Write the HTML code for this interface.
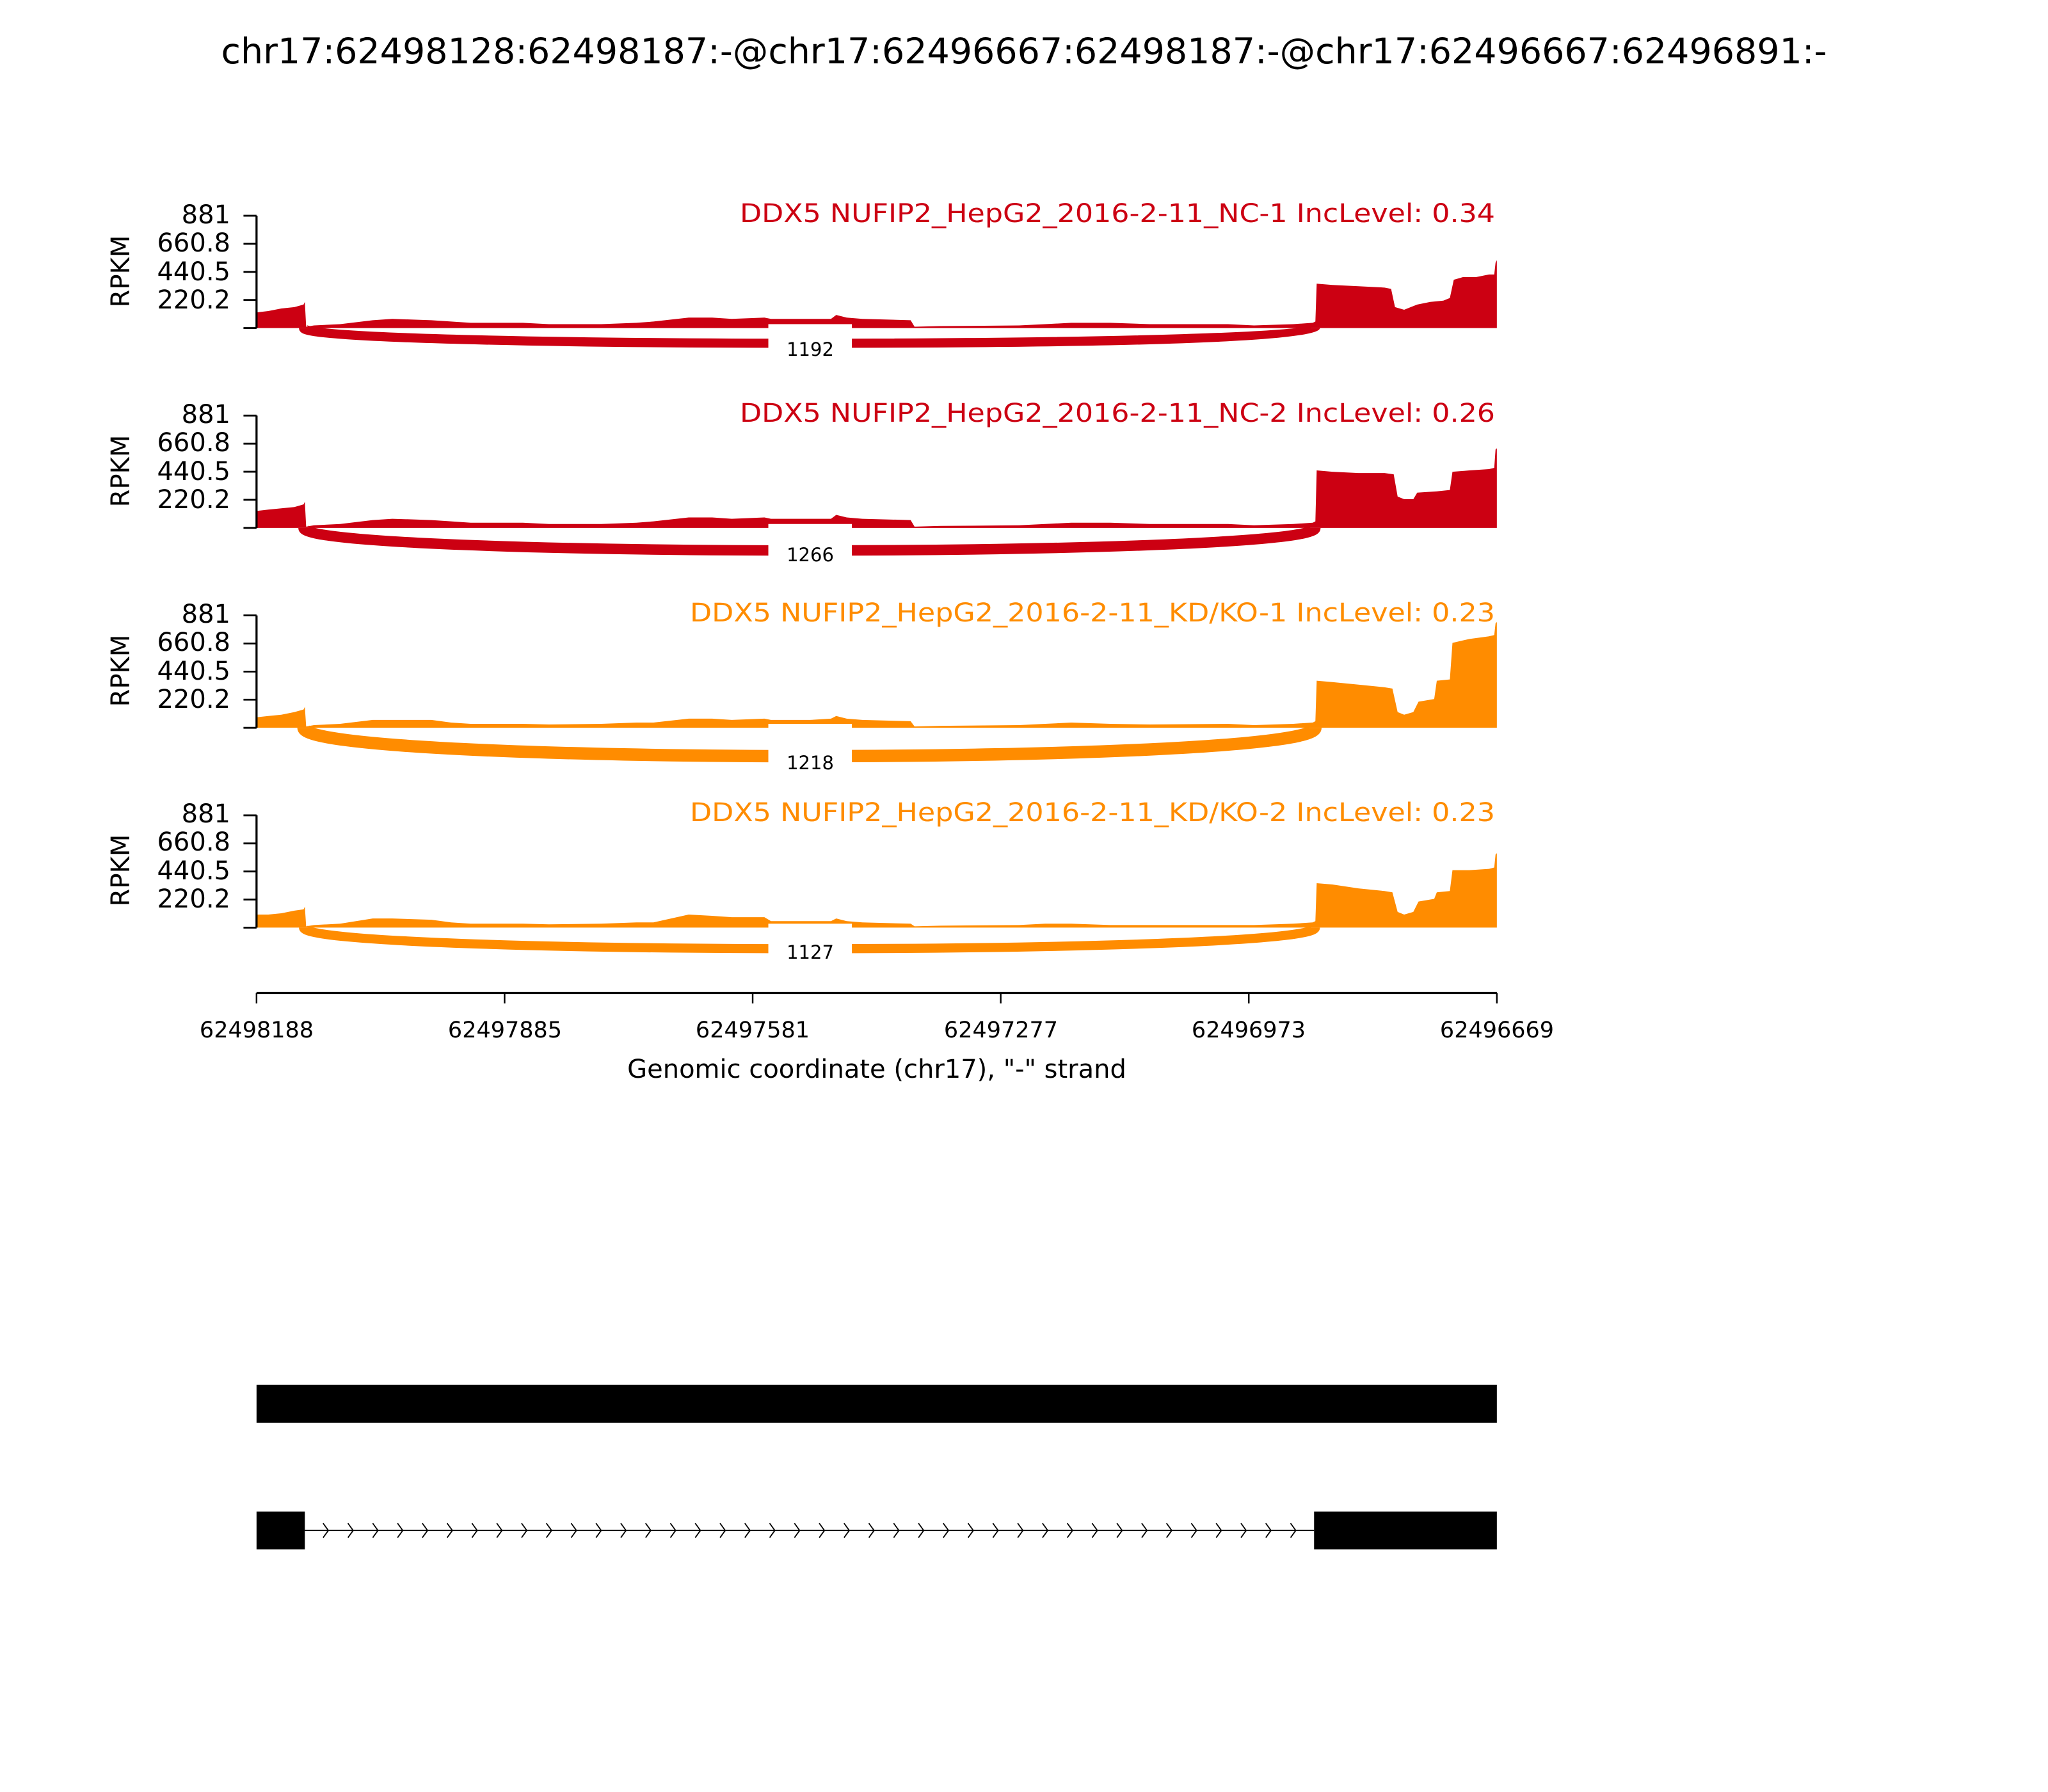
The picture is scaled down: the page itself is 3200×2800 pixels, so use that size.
<!DOCTYPE html>
<html><head><meta charset="utf-8"><style>
html,body{margin:0;padding:0;background:#fff;}
svg{display:block;}
text{font-family:"DejaVu Sans","Liberation Sans",sans-serif;}
</style></head><body>
<svg width="3200" height="2800" viewBox="0 0 3200 2800" xmlns="http://www.w3.org/2000/svg">
<rect width="3200" height="2800" fill="#fff"/>
<text x="1600" y="99" font-size="55" text-anchor="middle" textLength="2509" lengthAdjust="spacingAndGlyphs">chr17:62498128:62498187:-@chr17:62496667:62498187:-@chr17:62496667:62496891:-</text>

<g transform="matrix(2.04 0 0 2.041 1 0.3)">
<!-- Panel 1 -->
<g transform="translate(0,251)">
<path fill="#cc0012" d="M196,0 L196,-12 L205,-13 L215,-15 L225,-16 L232,-18 L233,-20 L234,-1 L240,-2 L260,-3 L285,-6 L300,-7 L330,-6 L345,-5 L360,-4 L400,-4 L420,-3 L460,-3 L487,-4 L500,-5 L527,-8 L545,-8 L560,-7 L585,-8 L590,-7 L620,-7 L636,-7 L640,-10 L648,-8 L660,-7 L697,-6 L700,-1 L720,-1.5 L780,-2 L800,-3 L820,-4 L850,-4 L880,-3 L940,-3 L960,-2 L990,-3 L1005,-4 L1007,-5 L1008,-34 L1020,-33 L1040,-32 L1060,-31 L1065,-30 L1068,-16 L1075,-14 L1080,-16 L1085,-18 L1095,-20 L1105,-21 L1110,-23 L1113,-37 L1120,-39 L1130,-39 L1140,-41 L1144,-41 L1145,-50 L1146,-52 L1146,0 Z"/>
<path fill="none" stroke="#cc0012" stroke-width="7" d="M232,0 C232,15.5 1007,15.5 1007,0"/>
<rect x="588" y="-3" width="64" height="27" fill="#fff"/>
<line x1="196" y1="-86" x2="196" y2="0" stroke="#000" stroke-width="1.6"/>
<path stroke="#000" stroke-width="1.4" d="M186,0H196M186,-21.5H196M186,-43H196M186,-64.5H196M186,-86H196"/>
</g>
<!-- Panel 2 -->
<g transform="translate(0,404)">
<path fill="#cc0012" d="M196,0 L196,-13 L205,-14 L215,-15 L225,-16 L232,-18 L233,-20 L234,-1 L240,-2 L260,-3 L285,-6 L300,-7 L330,-6 L345,-5 L360,-4 L400,-4 L420,-3 L460,-3 L487,-4 L500,-5 L527,-8 L545,-8 L560,-7 L585,-8 L590,-7 L620,-7 L636,-7 L640,-10 L648,-8 L660,-7 L697,-6 L700,-1 L720,-1.5 L780,-2 L800,-3 L820,-4 L850,-4 L880,-3 L940,-3 L960,-2 L990,-3 L1005,-4 L1007,-5 L1008,-44 L1020,-43 L1040,-42 L1060,-42 L1067,-41 L1070,-24 L1075,-22 L1082,-22 L1085,-27 L1100,-28 L1110,-29 L1112,-43 L1125,-44 L1140,-45 L1144,-46 L1145,-60 L1146,-61 L1146,0 Z"/>
<path fill="none" stroke="#cc0012" stroke-width="8" d="M232,0 C232,23 1007,23 1007,0"/>
<rect x="588" y="-3" width="64" height="30" fill="#fff"/>
<line x1="196" y1="-86" x2="196" y2="0" stroke="#000" stroke-width="1.6"/>
<path stroke="#000" stroke-width="1.4" d="M186,0H196M186,-21.5H196M186,-43H196M186,-64.5H196M186,-86H196"/>
</g>
<!-- Panel 3 -->
<g transform="translate(0,557)">
<path fill="#ff8c00" d="M196,0 L196,-8 L205,-9 L215,-10 L225,-12 L232,-14 L233,-16 L234,-1 L240,-2 L260,-3 L285,-6 L300,-6 L330,-6 L345,-4 L360,-3 L400,-3 L420,-2.5 L460,-3 L487,-4 L500,-4 L527,-7 L545,-7 L560,-6 L585,-7 L590,-6 L620,-6 L636,-7 L640,-9 L648,-7 L660,-6 L697,-5 L700,-1 L720,-1.5 L780,-2 L800,-3 L820,-4 L850,-3 L880,-2.5 L940,-3 L960,-2 L990,-3 L1005,-4 L1007,-5 L1008,-36 L1020,-35 L1040,-33 L1060,-31 L1066,-30 L1070,-12 L1075,-10 L1082,-12 L1086,-20 L1098,-22 L1100,-36 L1110,-37 L1112,-65 L1125,-68 L1140,-70 L1144,-71 L1145,-80 L1146,-81 L1146,0 Z"/>
<path fill="none" stroke="#ff8c00" stroke-width="9.5" d="M232,0 C232,29 1007,29 1007,0"/>
<rect x="588" y="-3" width="64" height="36" fill="#fff"/>
<line x1="196" y1="-86" x2="196" y2="0" stroke="#000" stroke-width="1.6"/>
<path stroke="#000" stroke-width="1.4" d="M186,0H196M186,-21.5H196M186,-43H196M186,-64.5H196M186,-86H196"/>
</g>
<!-- Panel 4 -->
<g transform="translate(0,710)">
<path fill="#ff8c00" d="M196,0 L196,-10 L205,-10 L215,-11 L225,-13 L232,-14 L233,-16 L234,-1 L240,-2 L260,-3 L285,-7 L300,-7 L330,-6 L345,-4 L360,-3 L400,-3 L420,-2.5 L460,-3 L487,-4 L500,-4 L527,-10 L545,-9 L560,-8 L585,-8 L590,-5 L620,-5 L636,-5 L640,-7 L648,-5 L660,-4 L697,-3 L700,-1 L720,-1.5 L780,-2 L800,-3 L820,-3 L850,-2 L880,-2 L940,-2 L960,-2 L990,-3 L1005,-4 L1007,-5 L1008,-34 L1020,-33 L1040,-30 L1060,-28 L1066,-27 L1070,-12 L1075,-10 L1082,-12 L1086,-20 L1098,-22 L1100,-27 L1110,-28 L1112,-44 L1125,-44 L1140,-45 L1144,-46 L1145,-56 L1146,-57 L1146,0 Z"/>
<path fill="none" stroke="#ff8c00" stroke-width="7" d="M232,0 C232,21.5 1007,21.5 1007,0"/>
<rect x="588" y="-3" width="64" height="28" fill="#fff"/>
<line x1="196" y1="-86" x2="196" y2="0" stroke="#000" stroke-width="1.6"/>
<path stroke="#000" stroke-width="1.4" d="M186,0H196M186,-21.5H196M186,-43H196M186,-64.5H196M186,-86H196"/>
</g>
<!-- x axis -->
<line x1="196" y1="760" x2="1146" y2="760" stroke="#000" stroke-width="1.6"/>
<path stroke="#000" stroke-width="1.2" d="M196,760V768M386,760V768M576,760V768M766,760V768M956,760V768M1146,760V768"/>
<!-- gene models -->
<rect x="196" y="1060" width="950" height="29" fill="#000"/>
<rect x="196" y="1157" width="37" height="29" fill="#000"/>
<rect x="1006" y="1157" width="140" height="29" fill="#000"/>
<line x1="233" y1="1171.5" x2="1006" y2="1171.5" stroke="#000" stroke-width="0.8"/>
<path fill="none" stroke="#000" stroke-width="0.9" d="M247,1166l4,5.5l-4,5.5 M266,1166l4,5.5l-4,5.5 M285,1166l4,5.5l-4,5.5 M304,1166l4,5.5l-4,5.5 M323,1166l4,5.5l-4,5.5 M342,1166l4,5.5l-4,5.5 M361,1166l4,5.5l-4,5.5 M380,1166l4,5.5l-4,5.5 M399,1166l4,5.5l-4,5.5 M418,1166l4,5.5l-4,5.5 M437,1166l4,5.5l-4,5.5 M456,1166l4,5.5l-4,5.5 M475,1166l4,5.5l-4,5.5 M494,1166l4,5.5l-4,5.5 M513,1166l4,5.5l-4,5.5 M532,1166l4,5.5l-4,5.5 M551,1166l4,5.5l-4,5.5 M570,1166l4,5.5l-4,5.5 M589,1166l4,5.5l-4,5.5 M608,1166l4,5.5l-4,5.5 M627,1166l4,5.5l-4,5.5 M646,1166l4,5.5l-4,5.5 M665,1166l4,5.5l-4,5.5 M684,1166l4,5.5l-4,5.5 M703,1166l4,5.5l-4,5.5 M722,1166l4,5.5l-4,5.5 M741,1166l4,5.5l-4,5.5 M760,1166l4,5.5l-4,5.5 M779,1166l4,5.5l-4,5.5 M798,1166l4,5.5l-4,5.5 M817,1166l4,5.5l-4,5.5 M836,1166l4,5.5l-4,5.5 M855,1166l4,5.5l-4,5.5 M874,1166l4,5.5l-4,5.5 M893,1166l4,5.5l-4,5.5 M912,1166l4,5.5l-4,5.5 M931,1166l4,5.5l-4,5.5 M950,1166l4,5.5l-4,5.5 M969,1166l4,5.5l-4,5.5 M988,1166l4,5.5l-4,5.5"/>
</g>

<!-- Sample labels -->
<g font-size="40" text-anchor="end">
<text x="2336" y="347" fill="#cc0012" textLength="1180" lengthAdjust="spacingAndGlyphs">DDX5 NUFIP2_HepG2_2016-2-11_NC-1 IncLevel: 0.34</text>
<text x="2336" y="659" fill="#cc0012" textLength="1180" lengthAdjust="spacingAndGlyphs">DDX5 NUFIP2_HepG2_2016-2-11_NC-2 IncLevel: 0.26</text>
<text x="2336" y="971" fill="#ff8c00" textLength="1258" lengthAdjust="spacingAndGlyphs">DDX5 NUFIP2_HepG2_2016-2-11_KD/KO-1 IncLevel: 0.23</text>
<text x="2336" y="1283" fill="#ff8c00" textLength="1258" lengthAdjust="spacingAndGlyphs">DDX5 NUFIP2_HepG2_2016-2-11_KD/KO-2 IncLevel: 0.23</text>
</g>
<!-- y tick labels -->
<g font-size="40" text-anchor="end">
<text x="360" y="349">881</text><text x="360" y="393">660.8</text><text x="360" y="438">440.5</text><text x="360" y="482">220.2</text>
<text x="360" y="661">881</text><text x="360" y="705">660.8</text><text x="360" y="750">440.5</text><text x="360" y="794">220.2</text>
<text x="360" y="973">881</text><text x="360" y="1017">660.8</text><text x="360" y="1062">440.5</text><text x="360" y="1106">220.2</text>
<text x="360" y="1285">881</text><text x="360" y="1329">660.8</text><text x="360" y="1374">440.5</text><text x="360" y="1418">220.2</text>
</g>
<g font-size="40" text-anchor="middle">
<text transform="translate(202,424) rotate(-90)">RPKM</text>
<text transform="translate(202,736) rotate(-90)">RPKM</text>
<text transform="translate(202,1048) rotate(-90)">RPKM</text>
<text transform="translate(202,1360) rotate(-90)">RPKM</text>
</g>
<!-- junction labels -->
<g font-size="29" text-anchor="middle">
<text x="1266" y="556">1192</text>
<text x="1266" y="877">1266</text>
<text x="1266" y="1202">1218</text>
<text x="1266" y="1498">1127</text>
</g>
<!-- x tick labels -->
<g font-size="35" text-anchor="middle">
<text x="401" y="1621">62498188</text>
<text x="789" y="1621">62497885</text>
<text x="1176" y="1621">62497581</text>
<text x="1564" y="1621">62497277</text>
<text x="1951" y="1621">62496973</text>
<text x="2339" y="1621">62496669</text>
</g>
<text x="1370" y="1684" font-size="40" text-anchor="middle">Genomic coordinate (chr17), "-" strand</text>
</svg>
</body></html>
